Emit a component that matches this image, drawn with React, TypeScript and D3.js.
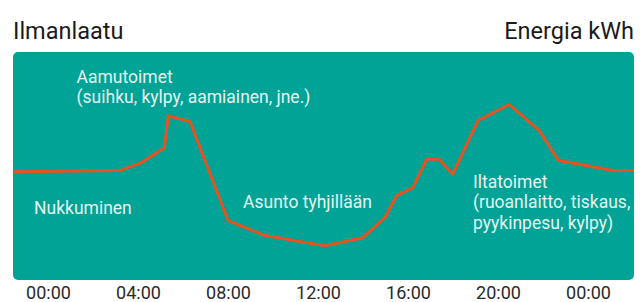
import React, { useEffect, useLayoutEffect, useRef } from 'react';
import * as d3 from 'd3';

// hours of the day (beyond 0..24 so the line runs edge to edge)
const hours = [-1.6, 3.2, 4.16, 5.17, 5.35, 6.31, 8.01, 9.64, 12.31, 13.99, 14.98, 15.5, 16.22, 16.83, 17.39, 17.99, 19.12, 20.5, 21.84, 22.68, 25.11, 26.1];
const energy = [0.95, 0.96, 1.03, 1.16, 1.44, 1.39, 0.52, 0.39, 0.3, 0.37, 0.55, 0.74, 0.81, 1.06, 1.06, 0.93, 1.4, 1.54, 1.31, 1.05, 0.96, 0.96];
const tickHours = [0, 4, 8, 12, 16, 20, 24];
const tickLabels = ['00:00', '04:00', '08:00', '12:00', '16:00', '20:00', '00:00'];

const notes = [
  { hour: 1.27, value: 1.73, lines: ['Aamutoimet', '(suihku, kylpy, aamiainen, jne.)'] },
  { hour: -0.62, value: 0.58, lines: ['Nukkuminen'] },
  { hour: 8.67, value: 0.63, lines: ['Asunto tyhjillään'] },
  { hour: 18.89, value: 0.81, lines: ['Iltatoimet', '(ruoanlaitto, tiskaus,', 'pyykinpesu, kylpy)'] },
];

const W = 640;
const H = 302;
const panel = { x: 13, y: 52, w: 621, h: 228 };

export default function App() {
  const axisRef = useRef<SVGGElement>(null);

  useLayoutEffect(() => {
    document.body.style.margin = '0';
  }, []);

  const x = d3.scaleLinear().domain([0, 24]).range([48, 588]);
  const y = d3.scaleLinear().domain([0, 2]).range([panel.y + panel.h, panel.y]);

  const line = d3
    .line<number>()
    .x((d, i) => x(hours[i]))
    .y((d) => y(d));

  useEffect(() => {
    const g = d3.select(axisRef.current);
    g.call(
      d3
        .axisBottom(x)
        .tickValues(tickHours)
        .tickSize(0)
        .tickPadding(6)
        .tickFormat((d, i) => tickLabels[i])
    );
    g.select('.domain').remove();
    g.selectAll('.tick text')
      .attr('fill', '#2a2a2a')
      .style('font-family', 'Roboto')
      .style('font-size', '18px');
  }, []);

  return (
    <svg width={W} height={H} style={{ display: 'block' }}>
      <defs>
        <clipPath id='panel-clip'>
          <rect x={panel.x} y={panel.y} width={panel.w} height={panel.h} rx={5} />
        </clipPath>
      </defs>
      <text x={13} y={39} fontFamily='Roboto' fontSize={23.5} fill='#1a1a1a'>
        Ilmanlaatu
      </text>
      <text x={634} y={39} fontFamily='Roboto' fontSize={23.5} fill='#1a1a1a' textAnchor='end'>
        Energia kWh
      </text>
      <rect x={panel.x} y={panel.y} width={panel.w} height={panel.h} rx={5} fill='#00A396' />
      <g fontFamily='Roboto' fontSize={17.5} fill='#E4F4F1'>
        {notes.map((n, i) => (
          <text key={i} x={x(n.hour)} y={y(n.value)}>
            {n.lines.map((l, j) => (
              <tspan key={j} x={x(n.hour)} dy={j === 0 ? 0 : 20.5}>
                {l}
              </tspan>
            ))}
          </text>
        ))}
      </g>
      <path
        d={line(energy) || ''}
        fill='none'
        stroke='#E8521F'
        strokeWidth={3}
        strokeLinejoin='miter'
        clipPath='url(#panel-clip)'
      />
      <g ref={axisRef} transform={`translate(0, ${panel.y + panel.h})`} />
    </svg>
  );
}
